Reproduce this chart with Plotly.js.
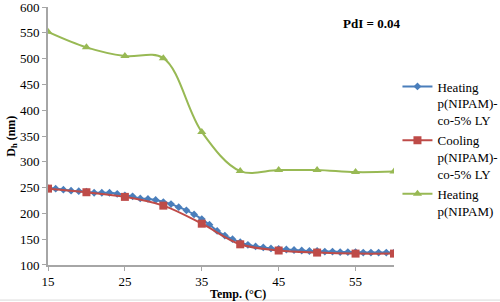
<!DOCTYPE html>
<html>
<head>
<meta charset="utf-8">
<script src="https://cdn.plot.ly/plotly-3.0.1.min.js"></script>
<style>html,body{margin:0;padding:0;background:#fff;}#chart{width:500px;height:302px;}</style>
</head>
<body>
<div id="chart"></div>
<script>
var blueTemps = [15,16,17,18,19,20,21,22,23,24,25,26,27,28,29,30,31,32,33,34,35,36,37,38,39,40,41,42,43,44,45,46,47,48,49,50,51,52,53,54,55,56,57,58,59,60];
var blueSizes = [249,248,246,244,243,242,240,240,240,238,235,233,229,228,226,222,218,212,206,198,189,178,166,157,150,144,139,136,134,132,131,130,129,128,127,127,126,126,125,125,125,124,124,124,124,124];
var redTemps = [15,20,25,30,35,40,45,50,55,60];
var redSizes = [248,241,232,215,180,140,128,124,122,122];
var greenTemps = [15,20,25,30,35,40,45,50,55,60];
var greenSizes = [552,522,505,501,358,282,284,284,280,281];
var names = ["Heating<br>p(NIPAM)-<br>co-5% LY","Cooling<br>p(NIPAM)-<br>co-5% LY","Heating<br>p(NIPAM)"];
var xTicks = [15,25,35,45,55];
var yTicks = [100,150,200,250,300,350,400,450,500,550,600];

var F = "'Liberation Serif', 'Times New Roman', serif";
var traces = [
  {x: blueTemps, y: blueSizes, name: names[0], mode: "lines+markers", type: "scatter",
   line: {color: "#4A7EBB", width: 2, shape: "spline", smoothing: 1},
   marker: {symbol: "diamond", size: 6, color: "#4A7EBB"}},
  {x: redTemps, y: redSizes, name: names[1], mode: "lines+markers", type: "scatter",
   line: {color: "#BE4B48", width: 2, shape: "spline", smoothing: 1},
   marker: {symbol: "square", size: 8, color: "#BE4B48"}},
  {x: greenTemps, y: greenSizes, name: names[2], mode: "lines+markers", type: "scatter",
   line: {color: "#98B954", width: 2, shape: "spline", smoothing: 1},
   marker: {symbol: "triangle-up", size: 8, color: "#98B954"}}
];
var layout = {
  width: 500, height: 302,
  margin: {l: 48, r: 106, t: 7, b: 37, autoexpand: false},
  paper_bgcolor: "#fff", plot_bgcolor: "#fff",
  font: {family: F, size: 13, color: "#000"},
  showlegend: true,
  legend: {x: 1.01, xanchor: "left", y: 0.75, yanchor: "top", valign: "top",
           font: {family: F, size: 13, color: "#000"}, tracegroupgap: 4, itemwidth: 30},
  xaxis: {range: [15, 60], tickvals: xTicks, ticktext: xTicks.map(String),
          showgrid: false, zeroline: false, showline: true, linecolor: "#A6A6A6", linewidth: 1.5,
          ticks: "outside", ticklen: 4, tickcolor: "#A6A6A6", tickfont: {family: F, size: 13},
          ticklabeloverflow: "allow"},
  yaxis: {range: [99.9, 600.2], tickvals: yTicks, ticktext: yTicks.map(String),
          showgrid: false, zeroline: false, showline: true, linecolor: "#A6A6A6", linewidth: 2,
          ticks: "outside", ticklen: 4, tickcolor: "#A6A6A6", tickfont: {family: F, size: 13},
          ticklabeloverflow: "allow"},
  annotations: [
    {text: "<b>PdI = 0.04</b>", xref: "paper", yref: "paper", x: 0.935, y: 0.935,
     xanchor: "center", yanchor: "middle", showarrow: false, font: {family: F, size: 13}},
    {text: "<b>Temp. (°C)</b>", xref: "paper", yref: "paper", x: 0.55, y: -0.112,
     xanchor: "center", yanchor: "middle", showarrow: false, font: {family: F, size: 12}},
    {text: "<b>D<sub>h</sub> (nm)</b>", xref: "paper", yref: "paper", x: -0.105, y: 0.5,
     xanchor: "center", yanchor: "middle", textangle: -90, showarrow: false, font: {family: F, size: 12}}
  ],
  shapes: [
    {type: "line", xref: "paper", yref: "paper", x0: -0.2, x1: 1.4, y0: -0.136, y1: -0.136,
     line: {color: "#D9D9D9", width: 1}}
  ]
};
Plotly.newPlot("chart", traces, layout, {displayModeBar: false, staticPlot: true});
</script>
</body>
</html>
